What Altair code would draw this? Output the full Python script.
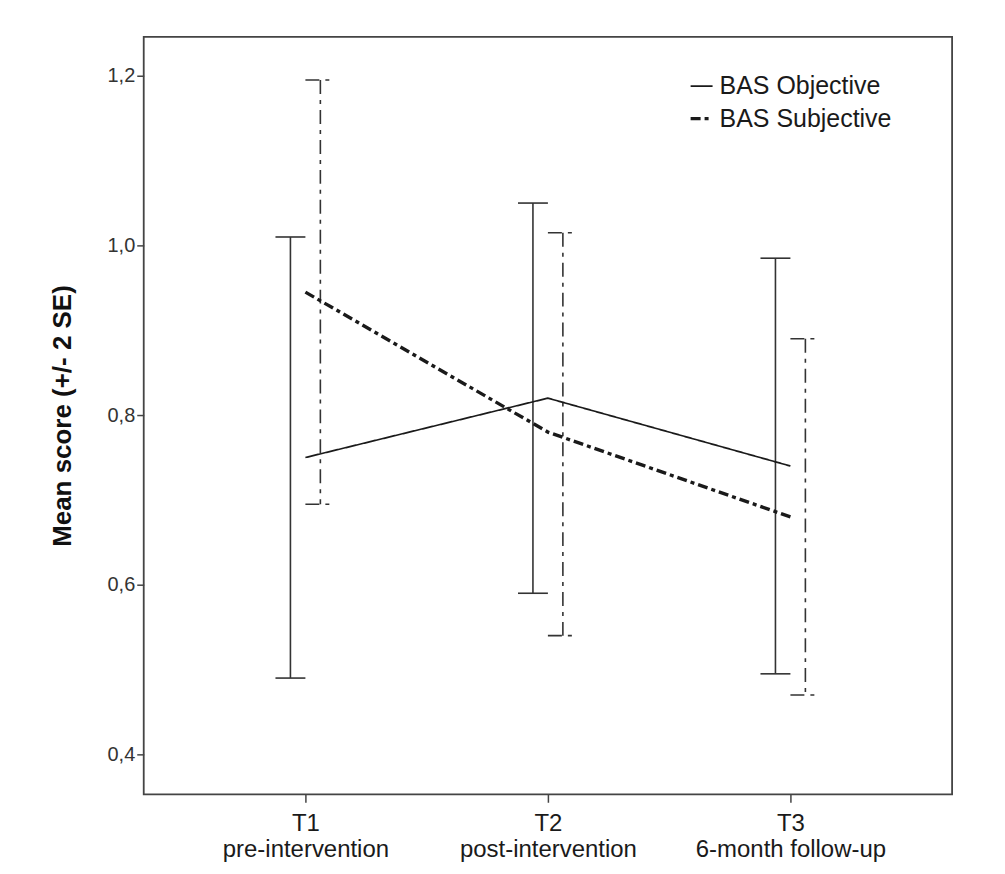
import altair as alt
import pandas as pd

# ---- data ----
times = [1, 2, 3]
time_top = ["T1", "T2", "T3"]
time_bottom = ["pre-intervention", "post-intervention", "6-month follow-up"]
series = ["BAS Objective", "BAS Subjective"]

obj_mean = [0.75, 0.82, 0.74]
obj_upper = [1.01, 1.05, 0.985]
obj_lower = [0.49, 0.59, 0.495]

subj_mean = [0.945, 0.78, 0.68]
subj_upper = [1.195, 1.015, 0.89]
subj_lower = [0.695, 0.54, 0.47]

y_ticks = [0.4, 0.6, 0.8, 1.0, 1.2]

rows = []
for s, m, u, l in [(series[0], obj_mean, obj_upper, obj_lower),
                   (series[1], subj_mean, subj_upper, subj_lower)]:
    for t, mm, uu, ll in zip(times, m, u, l):
        rows.append({"time": t, "series": s, "mean": mm, "upper": uu, "lower": ll})
df = pd.DataFrame(rows)

SANS = "Liberation Sans, Arial, sans-serif"
INK = "#1a1a1a"
BAR = "#333333"

label_js = "[" + ",".join("['%s','%s']" % (a, b) for a, b in zip(time_top, time_bottom)) + "][datum.value-1]"

xscale = alt.Scale(domain=[1 / 3, 11 / 3], nice=False, zero=False)
yscale = alt.Scale(domain=[0.353, 1.246], nice=False, zero=False)

xaxis = alt.Axis(values=times, labelExpr=label_js, title=None, grid=False, domain=False,
                 tickSize=8, tickColor="#444", tickWidth=1.5, labelFont=SANS,
                 labelFontSize=24, labelColor=INK, labelLineHeight=26, labelPadding=9,
                 labelAngle=0, labelBaseline="top", labelLimit=0, labelOverlap=False)
yaxis = alt.Axis(values=y_ticks, labelExpr="replace(format(datum.value,'.1f'),'.',',')",
                 title="Mean score (+/- 2 SE)", grid=False, domain=False,
                 tickSize=7, tickColor="#444", tickWidth=1.5, labelFont=SANS,
                 labelFontSize=20, labelColor="#333", labelPadding=2,
                 titleFont=SANS, titleFontWeight="bold", titleFontSize=26, titleColor="#111",
                 titleX=-81, titleY=379.5, titleAngle=-90, titleAlign="center",
                 titleBaseline="middle", titleLimit=0)

base = alt.Chart(df)

obj = base.transform_filter(alt.datum.series == series[0])
subj = base.transform_filter(alt.datum.series == series[1])

vr_obj = obj.mark_rule(xOffset=-15, color=BAR, strokeWidth=1.6).encode(
    x=alt.X("time:Q", scale=xscale, axis=xaxis),
    y=alt.Y("lower:Q", scale=yscale, axis=yaxis), y2="upper:Q")
cap_obj = obj.transform_fold(["lower", "upper"], as_=["bound", "value"]).mark_rule(
    xOffset=-30, x2Offset=0, color=BAR, strokeWidth=1.6).encode(
    x=alt.X("time:Q", scale=xscale), x2="time:Q", y=alt.Y("value:Q", scale=yscale))

vr_subj = subj.mark_rule(xOffset=15, color=BAR, strokeWidth=1.6, strokeDash=[14, 6, 4, 6]).encode(
    x=alt.X("time:Q", scale=xscale),
    y=alt.Y("upper:Q", scale=yscale), y2="lower:Q")
cap_subj = subj.transform_fold(["lower", "upper"], as_=["bound", "value"]).mark_rule(
    xOffset=0, x2Offset=30, color=BAR, strokeWidth=1.6, strokeDash=[14, 6, 4, 6]).encode(
    x=alt.X("time:Q", scale=xscale), x2="time:Q", y=alt.Y("value:Q", scale=yscale))

lines = base.mark_line(color=INK).encode(
    x=alt.X("time:Q", scale=xscale),
    y=alt.Y("mean:Q", scale=yscale),
    strokeDash=alt.StrokeDash("series:N",
                              scale=alt.Scale(domain=series, range=[[1, 0], [10, 4, 4, 4]]),
                              legend=alt.Legend(title=None, orient="none", legendX=546, legendY=37,
                                                symbolType="stroke", symbolSize=484,
                                                symbolStrokeWidth=2.4, symbolStrokeColor=INK,
                                                labelFont=SANS, labelFontSize=25, labelColor=INK,
                                                labelOffset=5, rowPadding=6, labelLimit=0)),
    strokeWidth=alt.StrokeWidth("series:N", scale=alt.Scale(domain=series, range=[1.7, 3.4]),
                                legend=None),
)

chart = alt.layer(vr_obj, cap_obj, vr_subj, cap_subj, lines).properties(
    width=810, height=759,
    autosize=alt.AutoSizeParams(type="none"),
    padding={"left": 136, "top": 28, "right": 45, "bottom": 70},
).configure(background="white").configure_view(stroke="#444", strokeWidth=1.8)

chart.save("out.html", embed_options={"renderer": "svg", "actions": False})
